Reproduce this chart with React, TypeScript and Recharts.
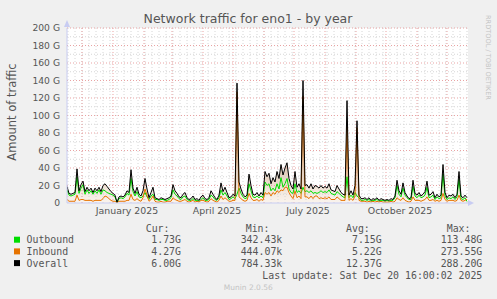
import { ComposedChart, Area, Line, XAxis, YAxis, CartesianGrid, ReferenceLine } from "recharts";

// one value every 2 days, starting 2024-11-16 (GB)
const outbound = [
  15, 9, 8, 9, 10, 30, 11, 17, 21, 10, 15, 11, 14, 10, 14, 11, 15, 10, 15, 14,
  12, 11, 10, 9, 7, 0.5, 5, 6, 5, 7, 11, 9, 28, 13, 8, 13, 7, 6, 8, 12,
  7, 4, 8, 10, 4, 4, 3, 4, 4, 3, 3, 4, 6, 15, 10, 8, 5, 4, 7, 8,
  4, 3, 3, 5, 3, 3, 2, 4, 6, 3, 3, 4, 9, 7, 4, 3, 6, 15, 9, 12,
  8, 4, 5, 7, 5, 10, 17, 11, 7, 5, 6, 22, 14, 7, 6, 8, 6, 8, 6, 24,
  20, 22, 14, 17, 14, 22, 16, 29, 18, 22, 28, 16, 12, 11, 22, 12, 14, 11, 18, 13,
  14, 12, 14, 11, 12, 11, 12, 14, 12, 13, 12, 15, 11, 10, 9, 13, 11, 9, 7, 6,
  30, 6, 9, 6, 12, 8, 6, 3, 3, 4, 3, 4, 2, 3, 3, 4, 2, 3, 3, 2,
  3, 2, 3, 3, 6, 20, 10, 7, 17, 9, 6, 4, 4, 19, 8, 6, 9, 6, 7, 9,
  18, 6, 7, 9, 4, 7, 5, 6, 33, 8, 4, 6, 5, 7, 4, 7, 27, 5, 4, 6,
  1.73,
];
const inbound = [
  4, 2, 2, 2, 2, 9, 3, 4, 4, 3, 3, 3, 3, 2, 3, 3, 3, 3, 5, 8,
  7, 5, 3, 2, 2, 0.3, 2, 2, 2, 2, 3, 3, 10, 4, 3, 5, 3, 2, 6, 16,
  9, 2, 4, 8, 2, 1, 1, 2, 1, 1, 2, 2, 2, 6, 4, 3, 2, 2, 3, 4,
  2, 1, 2, 3, 1, 2, 1, 3, 3, 2, 1, 2, 5, 3, 2, 1, 3, 8, 4, 6,
  4, 2, 2, 3, 3, 127, 7, 5, 3, 2, 3, 11, 6, 3, 3, 4, 2, 4, 3, 12,
  10, 12, 8, 12, 10, 14, 12, 15, 14, 18, 18, 12, 8, 5, 14, 6, 8, 5, 122, 7,
  7, 5, 8, 5, 8, 8, 5, 6, 5, 6, 5, 7, 4, 4, 4, 7, 5, 3, 3, 3,
  87, 3, 5, 3, 8, 86, 3, 2, 2, 2, 1, 2, 1, 2, 1, 2, 1, 2, 1, 1,
  1, 1, 2, 1, 2, 6, 4, 3, 6, 3, 2, 1, 2, 7, 3, 3, 3, 2, 3, 4,
  7, 3, 3, 4, 2, 3, 2, 3, 11, 4, 2, 3, 3, 3, 2, 3, 9, 3, 2, 3,
  4.27,
];

const yTicks = [0, 20, 40, 60, 80, 100, 120, 140, 160, 180, 200];
const yMinor = [10, 30, 50, 70, 90, 110, 130, 150, 170, 190];
const xTickLabels = ["January 2025", "April 2025", "July 2025", "October 2025"];
const xTickDates = ["2025-01-15", "2025-04-15", "2025-07-15", "2025-10-15"];
const monthStarts = [
  "2024-12-01", "2025-01-01", "2025-02-01", "2025-03-01", "2025-04-01", "2025-05-01",
  "2025-06-01", "2025-07-01", "2025-08-01", "2025-09-01", "2025-10-01", "2025-11-01", "2025-12-01",
];

const legendNames = ["Outbound", "Inbound", "Overall"];
const legendColors = ["#00dd00", "#e67300", "#000000"];
const curValues = ["1.73G", "4.27G", "6.00G"];
const minValues = ["342.43k", "444.07k", "784.33k"];
const avgValues = ["7.15G", "5.22G", "12.37G"];
const maxValues = ["113.48G", "273.55G", "288.20G"];

const START = Date.UTC(2024, 10, 16);
const STEP = 2;
const dayOf = (s: string) => (Date.parse(s + "T00:00:00Z") - START) / 86400000;

const data = outbound.map((o, i) => ({
  day: i * STEP,
  outbound: o,
  inbound: inbound[i],
  overall: +(o + inbound[i]).toFixed(2),
}));

const xTicks = xTickDates.map(dayOf);
const monthDays = monthStarts.map(dayOf);
const weekDays: number[] = [];
for (let d = 1; d <= 401; d += 7) weekDays.push(d);

const AXIS = "#c8ccf2";
const MAJOR = "#e9a3a3";
const MINOR = "#d6d6d6";
const TXT = "#555";

export default function App() {
  return (
    <div style={{ position: "absolute", left: 0, top: 0, width: 497, height: 299, background: "#f0f0f0" }}>
      <ComposedChart width={497} height={299} data={data} margin={{ top: 28, right: 29, bottom: 76, left: 8 }}>
        <defs>
          <linearGradient id="ovg" x1="0" y1="0" x2="0" y2="1">
            <stop offset="0%" stopColor="#1a1008" stopOpacity={1} />
            <stop offset="40%" stopColor="#6a4428" stopOpacity={0.95} />
            <stop offset="80%" stopColor="#c08a5a" stopOpacity={0.6} />
            <stop offset="100%" stopColor="#e0c0a0" stopOpacity={0.3} />
          </linearGradient>
        </defs>
        <CartesianGrid fill="#fff" horizontal={false} vertical={false} />
        {weekDays.map((d) => (
          <ReferenceLine key={"w" + d} x={d} stroke={MINOR} strokeDasharray="1 2" />
        ))}
        {yMinor.map((v) => (
          <ReferenceLine key={"m" + v} y={v} stroke={MINOR} strokeDasharray="1 2" />
        ))}
        {monthDays.map((d) => (
          <ReferenceLine key={"M" + d} x={d} stroke={MAJOR} strokeDasharray="1 2" />
        ))}
        {yTicks.slice(1).map((v) => (
          <ReferenceLine key={"Y" + v} y={v} stroke={MAJOR} strokeDasharray="1 2" />
        ))}
        <XAxis
          type="number"
          dataKey="day"
          domain={[0, 401]}
          ticks={xTicks}
          interval={0}
          tickFormatter={(_v, i) => xTickLabels[i]}
          axisLine={{ stroke: AXIS }}
          tickLine={false}
          tickSize={0}
          tickMargin={4}
          height={20}
          tick={{ fontSize: 9.4, fill: TXT, fontFamily: "DejaVu Sans" }}
          allowDataOverflow
        />
        <YAxis
          domain={[0, 200]}
          ticks={yTicks}
          interval={0}
          tickFormatter={(v) => (v === 0 ? "0" : `${v} G`)}
          axisLine={{ stroke: AXIS }}
          tickLine={false}
          tickSize={0}
          tickMargin={7}
          width={59}
          tick={{ fontSize: 9.2, fill: TXT, fontFamily: "DejaVu Sans" }}
          allowDataOverflow
        />
        <Area type="linear" dataKey="overall" stroke="none" fill="url(#ovg)" isAnimationActive={false} />
        <Line type="linear" dataKey="outbound" stroke={legendColors[0]} strokeWidth={1} dot={false} isAnimationActive={false} />
        <Line type="linear" dataKey="inbound" stroke={legendColors[1]} strokeWidth={1} dot={false} isAnimationActive={false} />
        <Line type="linear" dataKey="overall" stroke={legendColors[2]} strokeWidth={1} dot={false} isAnimationActive={false} />
      </ComposedChart>
      <svg width={497} height={299} style={{ position: "absolute", left: 0, top: 0, pointerEvents: "none" }}>
        <polygon points="64,27 70,27 67,20" fill={AXIS} />
        <polygon points="468,200 468,206 474,203" fill={AXIS} />
        <text x={248} y={18} textAnchor="middle" dominantBaseline="central" fontSize={12.5} fill={TXT} fontFamily="DejaVu Sans">
          Network traffic for eno1 - by year
        </text>
        <text
          x={12}
          y={112}
          transform="rotate(-90 12 112)"
          textAnchor="middle"
          dominantBaseline="central"
          fontSize={11.5}
          fill={TXT}
          fontFamily="DejaVu Sans"
        >
          Amount of traffic
        </text>
        <text
          x={488}
          y={15}
          transform="rotate(90 488 15)"
          textAnchor="start"
          dominantBaseline="central"
          fontSize={6.6}
          fill="#c4c4c4"
          fontFamily="DejaVu Sans"
        >
          RRDTOOL / TOBI OETIKER
        </text>
        <g fontFamily="DejaVu Sans Mono" fontSize={9.9} fill={TXT}>
          <text x={145.7} y={228.5} dominantBaseline="central">Cur:</text>
          <text x={245.7} y={228.5} dominantBaseline="central">Min:</text>
          <text x={346} y={228.5} dominantBaseline="central">Avg:</text>
          <text x={446.7} y={228.5} dominantBaseline="central">Max:</text>
          {legendNames.map((n, i) => {
            const y = 239.7 + i * 11.7;
            return (
              <g key={n}>
                <rect x={14} y={y - 3} width={6} height={6} fill={legendColors[i]} />
                <text x={26.5} y={y} dominantBaseline="central">{n}</text>
                <text x={181} y={y} textAnchor="end" dominantBaseline="central">{curValues[i]}</text>
                <text x={282.3} y={y} textAnchor="end" dominantBaseline="central">{minValues[i]}</text>
                <text x={381.7} y={y} textAnchor="end" dominantBaseline="central">{avgValues[i]}</text>
                <text x={482.3} y={y} textAnchor="end" dominantBaseline="central">{maxValues[i]}</text>
              </g>
            );
          })}
          <text x={482.3} y={275.7} textAnchor="end" dominantBaseline="central">
            Last update: Sat Dec 20 16:00:02 2025
          </text>
        </g>
        <text x={248.3} y={287.7} textAnchor="middle" dominantBaseline="central" fontSize={7.5} fill="#c4c4c4" fontFamily="DejaVu Sans">
          Munin 2.0.56
        </text>
      </svg>
    </div>
  );
}
